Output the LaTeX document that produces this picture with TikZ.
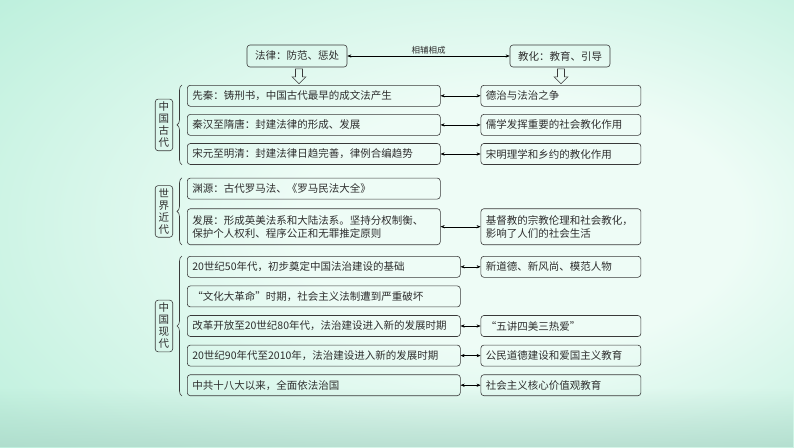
\documentclass[tikz,border=0pt]{standalone}
\usepackage{fontspec}
\setmainfont{Noto Sans CJK SC}
\usepackage{tikz}
\usetikzlibrary{positioning}
\usetikzlibrary{decorations.pathreplacing}
\usetikzlibrary{arrows.meta}
\usetikzlibrary{fadings}
\definecolor{rim}{HTML}{3A3A3A}
\definecolor{ink}{HTML}{2E2E2E}
\definecolor{bgin}{HTML}{EEFCF6}
\definecolor{bgmid}{HTML}{C6F2E1}
\definecolor{bgout}{HTML}{8EE4C7}
\definecolor{bgsea}{HTML}{A6D2C3}
\pgfdeclareradialshading{bgglow}{\pgfpoint{10bp}{0bp}}{color(0bp)=(bgin); color(14bp)=(bgin); color(34bp)=(bgmid); color(62bp)=(bgout)}

\begin{document}
\begin{tikzpicture}[x=1pt, y=-1pt,
    gubox/.style={draw=rim, rounded corners=3pt, line width=0.6pt, inner xsep=5pt, minimum height=21pt, align=left, text=ink, font=\fontsize{10.5}{13}\selectfont},
    zuobox/.style={gubox, text width=243pt},
    xianbox/.style={gubox, text width=263pt},
    youbox/.style={gubox, text width=150pt},
    dingbox/.style={draw=rim, rounded corners=3pt, line width=0.6pt, minimum width=100pt, minimum height=22pt, text=ink, font=\fontsize{10.5}{13}\selectfont},
    shijie/.style={draw=rim, rounded corners=3pt, line width=0.6pt, align=center, inner xsep=3.5pt, inner ysep=3pt, text=ink, font=\fontsize{10.5}{12}\selectfont},
    kuohao/.style={-, draw=rim, line width=0.6pt, decorate, decoration={brace, amplitude=5pt}},
    kongjian/.style={-, draw=rim, line width=0.6pt, line join=miter},
    biaoqian/.style={text=ink, font=\fontsize{8.5}{10}\selectfont, inner sep=2pt},
    <->, >={Stealth[length=4pt, width=3.2pt]}, node distance=7.5pt, auto]
            \shade[-, shading=bgglow] (0,0) rectangle (794,447);
            \fill[-, bgsea, opacity=0.6, path fading=north] (0,388) rectangle (794,447);

            \node[dingbox]    (falv)       at (297,56) {法律：防范、惩处};
            \node[dingbox]    (jiaohua)    at (560,56) {教化：教育、引导};
            \coordinate       (falvjt)     at ([xshift=2pt, yshift=-1.5pt]falv.south);
            \coordinate       (jiaohuajt)  at ([xshift=1pt, yshift=-1.5pt]jiaohua.south);
            \draw[kongjian] (falvjt) ++(-3.5,0) -- ++(0,8) -- ++(-3.5,0) -- ++(7,7) -- ++(7,-7) -- ++(-3.5,0) -- ++(0,-8) -- cycle;
            \draw[kongjian] (jiaohuajt) ++(-3.5,0) -- ++(0,8) -- ++(-3.5,0) -- ++(7,7) -- ++(7,-7) -- ++(-3.5,0) -- ++(0,-8) -- cycle;

            \node[zuobox, anchor=north west] (xianqin) at (187,85) {先秦：铸刑书，中国古代最早的成文法产生};
            \node[zuobox]     (qinhan)     [below=of xianqin]{秦汉至隋唐：封建法律的形成、发展};
            \node[zuobox]     (songyuan)   [below=of qinhan]{宋元至明清：封建法律日趋完善，律例合编趋势};
            \node[youbox]     (dezhi)      [right=40pt of xianqin]{德治与法治之争};
            \node[youbox]     (ruxue)      [right=40pt of qinhan]{儒学发挥重要的社会教化作用};
            \node[youbox]     (lixue)      [right=40pt of songyuan]{宋明理学和乡约的教化作用};

            \node[zuobox]     (yuanyuan)   [below=13pt of songyuan]{渊源：古代罗马法、《罗马民法大全》};
            \node[zuobox, minimum height=36pt] (fazhan) [below=9pt of yuanyuan]{发展：形成英美法系和大陆法系。坚持分权制衡、\\保护个人权利、程序公正和无罪推定原则};
            \node[youbox, minimum height=36pt] (jidujiao) [right=40pt of fazhan]{基督教的宗教伦理和社会教化，\\影响了人们的社会生活};

            \node[xianbox, anchor=north west] (wushi) at (187,256) {20世纪50年代，初步奠定中国法治建设的基础};
            \node[xianbox]    (wenge)      [below=8pt of wushi]{“文化大革命”时期，社会主义法制遭到严重破坏};
            \node[xianbox]    (gaige)      [below=8pt of wenge]{改革开放至20世纪80年代，法治建设进入新的发展时期};
            \node[xianbox]    (jiushi)     [below=8pt of gaige]{20世纪90年代至2010年，法治建设进入新的发展时期};
            \node[xianbox]    (shiba)      [below=8pt of jiushi]{中共十八大以来，全面依法治国};
            \node[youbox]     (xindaode)   [right=20pt of wushi]{新道德、新风尚、模范人物};
            \node[youbox]     (wujiang)    [right=20pt of gaige]{“五讲四美三热爱”};
            \node[youbox]     (gongmin)    [right=20pt of jiushi]{公民道德建设和爱国主义教育};
            \node[youbox]     (hexin)      [right=20pt of shiba]{社会主义核心价值观教育};

            \draw[kuohao] ([xshift=-5pt]songyuan.south west) -- ([xshift=-5pt]xianqin.north west) node[shijie, midway, left=9pt]{中\\国\\古\\代};
            \draw[kuohao] ([xshift=-5pt]fazhan.south west) -- ([xshift=-5pt]yuanyuan.north west) node[shijie, midway, left=9pt]{世\\界\\近\\代};
            \draw[kuohao] ([xshift=-5pt]shiba.south west) -- ([xshift=-5pt]wushi.north west) node[shijie, midway, left=9pt]{中\\国\\现\\代};

            \path(falv)edge node[biaoqian]{相辅相成}(jiaohua);
            \path(xianqin)edge(dezhi);
            \path(qinhan)edge(ruxue);
            \path(songyuan)edge(lixue);
            \path(fazhan)edge(jidujiao);
            \path(wushi)edge(xindaode);
            \path(gaige)edge(wujiang);
            \path(jiushi)edge(gongmin);
            \path(shiba)edge(hexin);
\end{tikzpicture}
\end{document}
